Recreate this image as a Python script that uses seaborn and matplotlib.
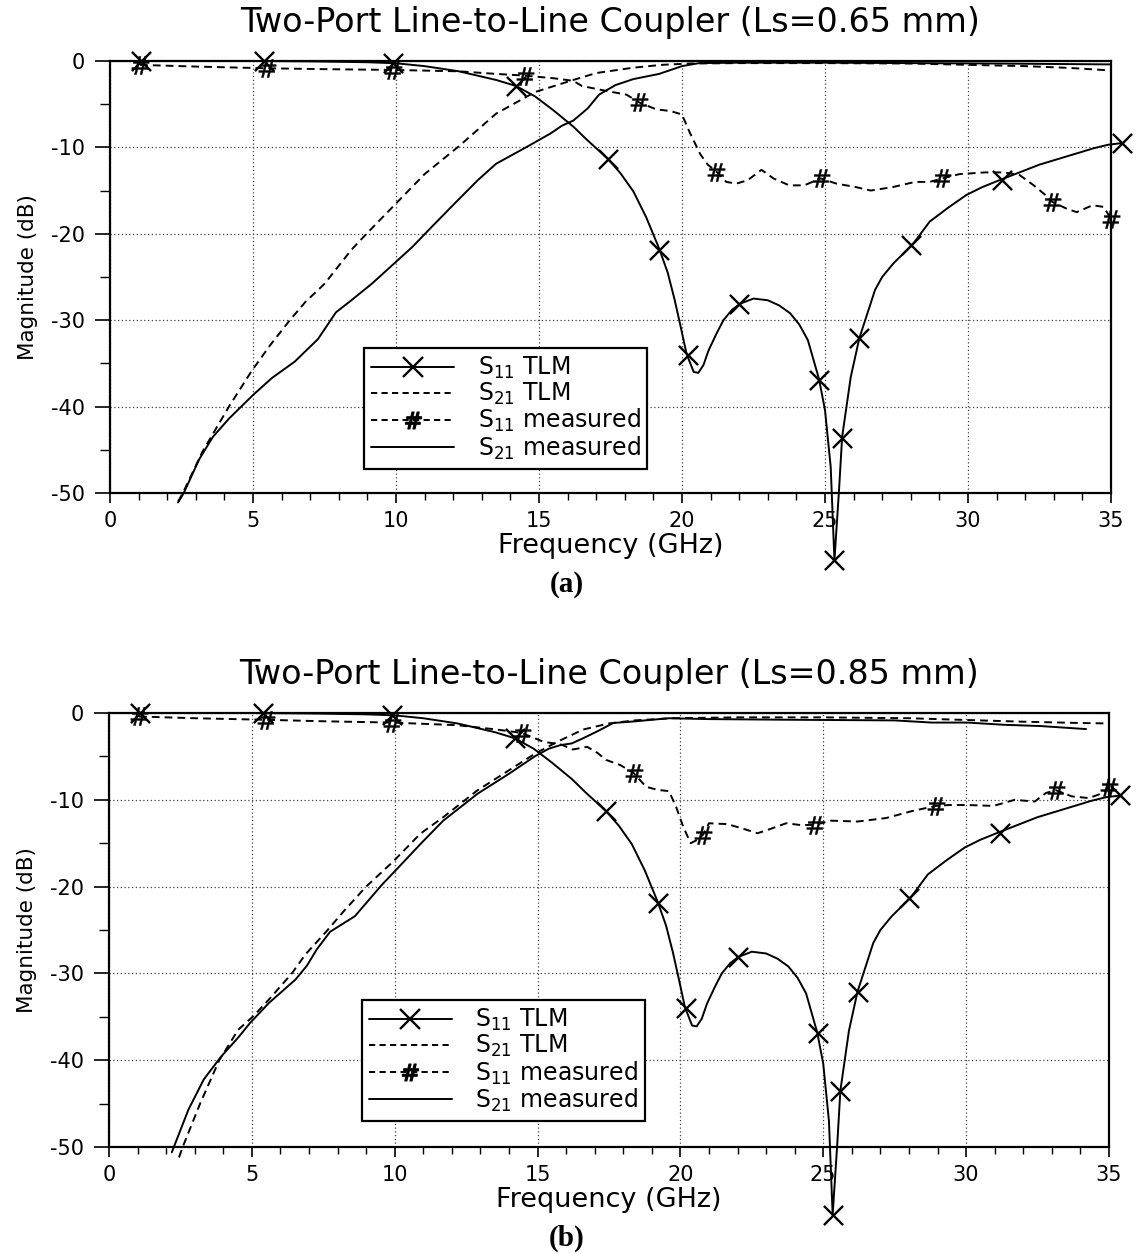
import numpy as np
import matplotlib
matplotlib.use("Agg")
import matplotlib.pyplot as plt
import seaborn as sns
from matplotlib.lines import Line2D
from matplotlib.ticker import MultipleLocator

# ---------------- data ----------------
# S11 TLM (same simulated curve in both panels)
s11_tlm_f = [1.0, 3.0, 5.0, 7.0, 9.0, 10.0, 11.0, 12.2, 13.5, 14.2, 14.86, 15.5, 16.2, 16.7,
             17.4, 17.85, 18.3, 18.75, 19.2, 19.5, 19.74, 19.95, 20.16, 20.41, 20.57, 20.75,
             20.93, 21.2, 21.45, 21.75, 22.03, 22.5, 23.0, 23.4, 23.78, 24.1, 24.4, 24.79, 25.0,
             25.2, 25.33, 25.49, 25.6, 25.9, 26.2, 26.75, 27.0, 27.4, 28.05, 28.66, 29.3, 29.95,
             30.5, 31.1, 31.8, 32.5, 33.2, 33.8, 34.4, 34.9, 35.4]
s11_tlm_db = [0.0, 0.0, 0.0, -0.05, -0.15, -0.27, -0.6, -1.2, -2.2, -2.9, -4.1, -5.7, -7.6, -9.2,
              -11.3, -13.0, -15.1, -18.1, -21.7, -24.5, -27.6, -30.7, -33.9, -36.0, -36.1, -35.2,
              -33.5, -31.6, -30.0, -28.8, -28.1, -27.5, -27.7, -28.3, -29.2, -30.5, -32.3, -36.8,
              -40.4, -47.0, -57.8, -49.7, -43.5, -36.6, -32.1, -26.5, -25.0, -23.4, -21.3, -18.6,
              -17.0, -15.5, -14.6, -13.8, -12.9, -12.0, -11.3, -10.7, -10.1, -9.7, -9.5]
s11_tlm_mk_f = [1.08, 5.4, 9.9, 14.2, 17.4, 19.2, 20.2, 22.0, 24.8, 25.33, 25.6, 26.2, 28.0, 31.2, 35.4]
s11_tlm_mk_db = [0.0, 0.0, -0.2, -2.9, -11.3, -21.9, -34.0, -28.1, -36.9, -57.8, -43.6, -32.1, -21.3, -13.8, -9.5]

# ---- panel (a): Ls = 0.65 mm ----
a_s21_tlm_f = [2.38, 2.55, 3.22, 4.16, 4.95, 5.6, 6.29, 6.83, 7.5, 8.43, 8.97, 10.0, 11.0, 12.19,
               13.5, 14.86, 16.2, 17.0, 18.3, 19.3, 20.26, 22.0, 25.0, 28.0, 30.0, 32.0, 33.5, 35.0]
a_s21_tlm_db = [-51.0, -50.0, -45.3, -40.0, -35.9, -32.9, -30.0, -27.9, -25.8, -21.9, -20.0, -16.5,
                -13.1, -9.9, -6.1, -3.6, -2.2, -1.4, -0.78, -0.45, -0.3, -0.25, -0.25, -0.3, -0.45,
                -0.6, -0.8, -1.1]
a_s21_meas_f = [2.38, 2.58, 3.12, 3.6, 4.16, 4.99, 5.66, 6.46, 7.27, 7.9, 8.44, 9.15, 10.05, 10.58,
                11.25, 12.05, 12.86, 13.5, 14.6, 15.4, 15.8, 16.2, 16.7, 17.1, 17.67, 18.3, 19.2,
                20.0, 20.6, 22.0, 25.0, 28.0, 31.0, 35.0]
a_s21_meas_db = [-51.1, -50.0, -46.1, -43.5, -41.4, -38.7, -36.7, -34.8, -32.2, -29.1, -27.7, -25.8,
                 -23.1, -21.5, -19.2, -16.5, -13.8, -11.9, -9.9, -8.4, -7.5, -6.9, -5.5, -3.9, -2.8,
                 -2.1, -1.5, -0.6, -0.25, -0.2, -0.2, -0.25, -0.3, -0.4]
a_s11_meas_f = [1.05, 3.0, 5.5, 7.5, 9.9, 12.2, 13.5, 14.5, 15.5, 16.2, 16.5, 17.4, 18.06, 18.5,
                19.1, 19.6, 20.0, 20.26, 20.64, 20.9, 21.2, 21.55, 21.9, 22.3, 22.78, 23.2, 23.75,
                24.27, 24.85, 25.4, 26.08, 26.6, 27.37, 28.15, 28.66, 29.1, 29.7, 30.6, 31.25,
                31.8, 32.3, 32.7, 32.94, 33.45, 33.8, 34.36, 34.75, 35.0]
a_s11_meas_db = [-0.46, -0.65, -0.85, -0.95, -1.04, -1.2, -1.5, -1.7, -2.0, -2.3, -2.9, -3.5, -3.9,
                 -4.8, -5.6, -5.8, -6.2, -8.2, -10.8, -12.0, -12.8, -14.0, -14.2, -13.8, -12.6,
                 -13.6, -14.4, -14.4, -13.6, -14.2, -14.6, -15.0, -14.6, -14.0, -14.0, -13.6, -13.1,
                 -12.9, -12.9, -13.2, -14.4, -15.5, -16.3, -17.1, -17.5, -16.7, -16.9, -18.3]
a_s11_meas_mk_f = [1.05, 5.5, 9.9, 14.5, 18.5, 21.2, 24.85, 29.1, 32.94, 35.0]
a_s11_meas_mk_db = [-0.46, -0.85, -1.04, -1.7, -4.8, -12.8, -13.6, -13.6, -16.3, -18.3]

# ---- panel (b): Ls = 0.85 mm ----
b_s21_tlm_f = [2.45, 2.58, 3.19, 3.86, 4.52, 5.06, 5.6, 6.4, 6.88, 7.6, 8.2, 9.0, 9.95, 10.9, 11.7,
               12.9, 14.0, 14.9, 15.7, 16.6, 17.5, 18.4, 19.7, 22.0, 25.0, 28.0, 30.0, 32.0, 34.0, 35.0]
b_s21_tlm_db = [-51.2, -50.0, -45.0, -40.0, -36.5, -34.9, -33.0, -30.0, -27.8, -25.2, -22.9, -20.0,
                -17.1, -13.9, -12.0, -8.9, -6.6, -4.7, -3.3, -1.9, -1.2, -0.85, -0.6, -0.5, -0.5,
                -0.6, -0.8, -1.0, -1.15, -1.2]
b_s21_meas_f = [2.2, 2.78, 3.32, 3.92, 4.52, 4.94, 5.6, 6.53, 6.93, 7.28, 7.74, 8.61, 9.55, 10.1,
                10.9, 11.7, 12.9, 14.0, 14.9, 15.4, 15.8, 16.2, 16.6, 17.1, 17.65, 18.4, 19.6, 21.0,
                23.6, 27.5, 28.8, 30.05, 31.3, 32.6, 34.2]
b_s21_meas_db = [-50.6, -45.7, -42.2, -39.6, -37.4, -35.7, -33.4, -30.7, -29.1, -27.2, -25.2, -23.4,
                 -19.8, -17.9, -15.1, -12.4, -9.3, -7.0, -5.0, -4.1, -3.7, -3.5, -2.9, -2.1, -1.15,
                 -0.96, -0.6, -0.7, -0.77, -0.85, -1.1, -1.1, -1.35, -1.5, -1.85]
b_s11_meas_f = [1.05, 3.0, 5.5, 7.5, 9.9, 12.2, 13.57, 14.45, 15.2, 15.84, 16.23, 16.74, 17.1, 17.4,
                17.9, 18.36, 18.8, 19.2, 19.6, 19.85, 20.1, 20.36, 20.6, 20.8, 21.0, 21.65, 22.17,
                22.7, 23.2, 23.7, 24.2, 24.7, 25.27, 26.2, 27.2, 28.1, 28.95, 29.4, 30.05, 30.96,
                31.7, 32.4, 32.8, 33.15, 33.7, 34.3, 34.8, 35.0]
b_s11_meas_db = [-0.4, -0.6, -0.78, -0.95, -1.1, -1.4, -1.9, -2.3, -3.3, -3.65, -4.2, -3.9, -4.6,
                 -5.4, -6.0, -6.9, -8.5, -8.85, -9.0, -10.8, -13.1, -15.0, -14.6, -14.0, -12.7,
                 -12.8, -13.3, -13.85, -13.3, -12.7, -12.9, -12.9, -12.4, -12.5, -12.1, -11.3,
                 -10.7, -10.6, -10.6, -10.7, -10.0, -10.2, -9.2, -8.9, -9.6, -9.8, -9.2, -8.5]
b_s11_meas_mk_f = [1.05, 5.5, 9.9, 14.45, 18.36, 20.8, 24.7, 28.95, 33.15, 35.0]
b_s11_meas_mk_db = [-0.4, -0.78, -1.1, -2.3, -6.9, -14.0, -12.9, -10.7, -8.9, -8.5]

titles = ["Two-Port Line-to-Line Coupler (Ls=0.65 mm)",
          "Two-Port Line-to-Line Coupler (Ls=0.85 mm)"]
panel_tags = ["(a)", "(b)"]
legend_labels = [r"S$_{11}$ TLM", r"S$_{21}$ TLM", r"S$_{11}$ measured", r"S$_{21}$ measured"]
x_label = "Frequency (GHz)"
y_label = "Magnitude (dB)"

# ---------------- style ----------------
sns.set_style("ticks")
plt.rcParams.update({
    "font.family": ["DejaVu Sans"],
    "axes.unicode_minus": False,
    "mathtext.fontset": "dejavusans",
    "text.color": "k",
    "axes.labelcolor": "k",
    "xtick.color": "k",
    "ytick.color": "k",
})

DASH = (0, (4.0, 2.6))
LW = 1.4

fig = plt.figure(figsize=(11.41, 12.54), dpi=100)
ax_a = fig.add_axes([0.0964, 0.6069, 0.8773, 0.3445])
ax_b = fig.add_axes([0.0955, 0.0853, 0.8764, 0.3461])


def draw(ax, title, s21t_f, s21t_db, s21m_f, s21m_db, s11m_f, s11m_db, s11mk_f, s11mk_db, leg_anchor):
    common = dict(ax=ax, color="k", linewidth=LW, errorbar=None, sort=False, clip_on=False, zorder=3)
    sns.lineplot(x=s21t_f, y=s21t_db, linestyle=DASH, **common)
    sns.lineplot(x=s21m_f, y=s21m_db, **common)
    sns.lineplot(x=s11m_f, y=s11m_db, linestyle=DASH, **common)
    sns.lineplot(x=s11_tlm_f, y=s11_tlm_db, **common)
    sns.scatterplot(x=s11_tlm_mk_f, y=s11_tlm_mk_db, ax=ax, marker="x", s=190, color="k",
                    linewidth=1.7, clip_on=False, zorder=4)
    sns.scatterplot(x=s11mk_f, y=s11mk_db, ax=ax, marker=r"$\#$", s=170, color="k",
                    linewidth=0.3, edgecolor="k", clip_on=False, zorder=4)

    ax.set_xlim(0, 35)
    ax.set_ylim(-50, 0)
    ax.xaxis.set_major_locator(MultipleLocator(5))
    ax.xaxis.set_minor_locator(MultipleLocator(1))
    ax.yaxis.set_major_locator(MultipleLocator(10))
    ax.yaxis.set_minor_locator(MultipleLocator(5))
    ax.tick_params(axis="x", which="major", direction="out", length=7.2, width=1.2,
                   pad=6, labelsize=15, colors="k")
    ax.tick_params(axis="x", which="minor", direction="out", length=5, width=1.0)
    ax.tick_params(axis="y", which="major", direction="out", length=10.8, width=1.2,
                   pad=7.5, labelsize=15, colors="k")
    ax.tick_params(axis="y", which="minor", direction="out", length=7, width=1.0)
    ax.grid(True, which="major", linestyle=(0, (1, 2)), color="0.25", linewidth=0.9)
    ax.set_axisbelow(True)
    for sp in ax.spines.values():
        sp.set_visible(True)
        sp.set_color("k")
        sp.set_linewidth(1.6)

    ax.set_xlabel(x_label, fontsize=19.5, va="top", color="k")
    ax.xaxis.set_label_coords(0.5, -0.0926)
    ax.set_ylabel(y_label, fontsize=15.5, color="k")
    ax.yaxis.set_label_coords(-0.072, 0.5)
    ax.set_title(title, fontsize=24, y=1.088, pad=0, va="center", color="k")

    handles = [
        Line2D([], [], color="k", lw=LW, marker="x", markersize=14, markeredgewidth=1.7),
        Line2D([], [], color="k", lw=LW, linestyle=(0, (3.2, 2.2))),
        Line2D([], [], color="k", lw=LW, linestyle=(0, (3.2, 2.2)), marker=r"$\#$", markersize=12),
        Line2D([], [], color="k", lw=LW),
    ]
    leg = ax.legend(handles, legend_labels, loc="upper left", bbox_to_anchor=leg_anchor,
                    bbox_transform=ax.transAxes, fontsize=17, frameon=True, fancybox=False,
                    framealpha=1, edgecolor="k", handlelength=3.5, handletextpad=1.0,
                    labelspacing=0.0, borderpad=0.3, borderaxespad=0, numpoints=1)
    leg.get_frame().set_linewidth(1.6)
    for t in leg.get_texts():
        t.set_color("k")
    leg.set_zorder(5)


draw(ax_a, titles[0], a_s21_tlm_f, a_s21_tlm_db, a_s21_meas_f, a_s21_meas_db,
     a_s11_meas_f, a_s11_meas_db, a_s11_meas_mk_f, a_s11_meas_mk_db, (0.254, 0.336))
draw(ax_b, titles[1], b_s21_tlm_f, b_s21_tlm_db, b_s21_meas_f, b_s21_meas_db,
     b_s11_meas_f, b_s11_meas_db, b_s11_meas_mk_f, b_s11_meas_mk_db, (0.253, 0.339))

fig.text(567 / 1141, 1 - 584 / 1254, panel_tags[0], fontfamily="Liberation Serif",
         fontweight="bold", fontsize=21, ha="center", va="center", color="k")
fig.text(567 / 1141, 1 - 1238 / 1254, panel_tags[1], fontfamily="Liberation Serif",
         fontweight="bold", fontsize=21, ha="center", va="center", color="k")

fig.savefig("out.png", dpi=100)
